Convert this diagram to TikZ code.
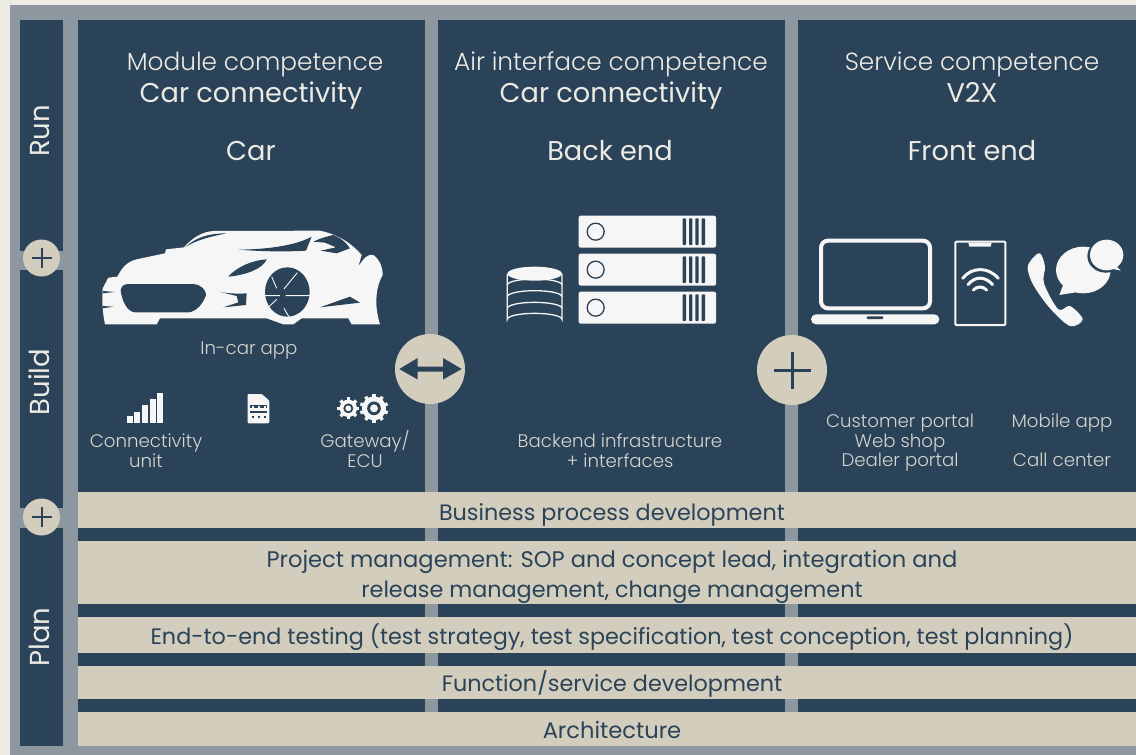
\documentclass[tikz,border=0pt]{standalone}
\usepackage{fontspec}
\setmainfont{Poppins}[UprightFont={* Light}]
\newfontfamily\regfont{Poppins}
\definecolor{navy}{HTML}{2A4358}
\definecolor{slate}{HTML}{8C979F}
\definecolor{paper}{HTML}{EEEBE4}
\definecolor{sand}{HTML}{D2CDBD}
\definecolor{snow}{HTML}{F6F6F6}
\definecolor{headtxt}{HTML}{ECEAE4}
\definecolor{smalltxt}{HTML}{D6D4CE}
\tikzset{
  head/.style={text=headtxt,font=\fontsize{24.8}{25}\selectfont,inner sep=0pt,anchor=base},
  headb/.style={text=headtxt,font=\regfont\fontsize{27.2}{27}\selectfont,inner sep=0pt,anchor=base},
  small/.style={text=smalltxt,font=\fontsize{18.2}{18}\selectfont,inner sep=0pt,anchor=base},
  band/.style={text=navy,font=\regfont\fontsize{22.3}{22}\selectfont,inner sep=0pt,anchor=base},
  bandwide/.style={text=navy,font=\regfont\fontsize{22.6}{22}\selectfont,inner sep=0pt,anchor=base},
  side/.style={text=headtxt,font=\regfont\fontsize{27.5}{28}\selectfont,inner sep=0pt,rotate=90,anchor=base},
  zoomA/.style={shift={(80,210)},x=0.33333pt,y=-0.33333pt},
  zoomB/.style={shift={(480,200)},x=0.33333pt,y=-0.33333pt},
  zoomC/.style={shift={(750,220)},x=0.33333pt,y=-0.33333pt},
}
\begin{document}
\begin{tikzpicture}[x=1pt,y=-1pt]
\useasboundingbox (0,0) rectangle (1136,755);
\fill[paper] (0,0) rectangle (1136,755);
\fill[slate] (10,5) rectangle (1136,755);
\fill[navy] (20,20) rectangle (63,251);
\fill[navy] (20,270) rectangle (63,508);
\fill[navy] (20,528) rectangle (63,746);
\fill[navy] (78,20) rectangle (425,712);
\fill[navy] (438,20) rectangle (785,712);
\fill[navy] (798,20) rectangle (1136,712);
% bands
\fill[sand] (78,492) rectangle (1136,528);
\fill[sand] (78,541) rectangle (1136,604);
\fill[sand] (78,617) rectangle (1136,653);
\fill[sand] (78,666) rectangle (1136,699);
\fill[sand] (78,712) rectangle (1136,746);
% side labels
\node[side] (run) at (49.5,131) {Run};
\node[side] (build) at (49.5,382) {Build};
\node[side] (plan) at (49.5,637) {Plan};
% small plus circles
\fill[sand] (41.5,258) circle (18.5pt);
\fill[sand] (41.5,517) circle (18.5pt);
\draw[navy,line width=2pt] (31.5,258) -- (51.5,258) (41.5,248) -- (41.5,268);
\draw[navy,line width=2pt] (31.5,517) -- (51.5,517) (41.5,507) -- (41.5,527);
% big circles
\fill[sand] (430,369) circle (35pt);
\fill[sand] (792,370) circle (35pt);
\fill[navy] (399.3,369) -- (417.7,358) -- (417.7,366.7) -- (443,366.7) -- (443,358) -- (461.7,369) -- (443,379.5) -- (443,371.5) -- (417.7,371.5) -- (417.7,379.5) -- cycle;
\draw[navy,line width=3pt] (774,370) -- (811,370) (792,352) -- (792,389);
% headings
\node[head] (h1a) at (255,70) {Module competence};
\node[headb] (h1b) at (251,102) {Car connectivity};
\node[headb] (h1c) at (251,160) {Car};
\node[head] (h2a) at (611,70) {Air interface competence};
\node[headb] (h2b) at (611,102) {Car connectivity};
\node[headb] (h2c) at (610,160) {Back end};
\node[head] (h3a) at (972,70) {Service competence};
\node[headb] (h3b) at (972,102) {V2X};
\node[headb] (h3c) at (972,160) {Front end};
% small labels
\node[small] (l1) at (249,354) {In-car app};
\node[small] (l2) at (146,447) {Connectivity};
\node[small] (l3) at (146,467) {unit};
\node[small] (l4) at (365,447) {Gateway/};
\node[small] (l5) at (365,467) {ECU};
\node[small] (l6) at (620,447) {Backend infrastructure};
\node[small] (l7) at (620,467) {+ interfaces};
\node[small] (l8) at (900,427) {Customer portal};
\node[small] (l9) at (900,447) {Web shop};
\node[small] (l10) at (900,466) {Dealer portal};
\node[small] (l11) at (1062,427) {Mobile app};
\node[small] (l12) at (1062,466) {Call center};
% band labels
\node[band] (b1) at (612,520) {Business process development};
\node[bandwide] (b2) at (612,567) {Project management: SOP and concept lead, integration and};
\node[band] (b3) at (612,597) {release management, change management};
\node[band] (b4) at (612,644) {End-to-end testing (test strategy, test specification, test conception, test planning)};
\node[band] (b5) at (612,691) {Function/service development};
\node[bandwide] (b6) at (612,738) {Architecture};
% car
\begin{scope}[zoomA]
\fill[snow] (75,343) .. controls (68,310) and (65,270) .. (68,235) -- (85,203) -- (112,200) .. controls (125,175) and (140,155) .. (170,148) -- (255,130) -- (258,118) -- (312,112) .. controls (340,80) and (370,65) .. (400,63) -- (720,62) .. controls (780,75) and (820,105) .. (845,135) -- (835,170) .. controls (850,145) and (865,130) .. (880,135) .. controls (900,150) and (908,170) .. (908,195) .. controls (890,225) and (880,280) .. (900,343) -- (815,343) -- (805,325) -- (665,325) -- (640,343) -- (610,343) -- (560,325) -- (240,325) -- (230,343) -- cycle;
\fill[navy] (122,240) .. controls (125,225) and (135,222) .. (150,222) -- (340,222) .. controls (365,225) and (378,240) .. (378,255) .. controls (370,280) and (350,305) .. (325,307) -- (165,307) .. controls (140,305) and (125,270) .. (122,240) -- cycle;
\fill[navy] (318,110) .. controls (345,85) and (380,70) .. (440,70) .. controls (390,80) and (350,90) .. (318,110) -- cycle;
\fill[navy] (475,119) .. controls (570,118) and (650,105) .. (695,80) -- (678,122) .. controls (610,126) and (540,124) .. (475,119) -- cycle;
\fill[navy] (700,95) .. controls (720,85) and (745,78) .. (760,75) .. controls (785,85) and (800,100) .. (810,115) -- (770,130) -- (722,122) -- (768,112) -- (735,98) -- cycle;
\fill[navy] (445,200) .. controls (470,170) and (520,150) .. (560,148) .. controls (550,175) and (500,195) .. (445,200) -- cycle;
\fill[navy] (418,245) .. controls (440,250) and (470,252) .. (500,250) -- (498,285) -- (430,292) -- (475,277) -- (470,258) -- cycle;
\fill[navy] (720,292) -- (810,260) -- (840,278) -- cycle;
\fill[navy] (68,243) -- (105,246) -- (68,250) -- cycle;
\fill[navy] (68,288) -- (100,290) -- (68,295) -- cycle;
\fill[navy] (622,246) ellipse [x radius=67,y radius=74];
\draw[snow,line width=0.9pt] (555,257) -- (600,257) (617,257) -- (688,257) (612,237) -- (652,188) (575,200) -- (590,235) (560,297) -- (590,268) (612,295) -- (638,340);
\foreach \x/\h in {140/618,163/605,187/585,210/566,232/550} \fill[snow] (\x,640) rectangle ++(18,\h-640);
\fill[snow,rounded corners=1pt] (503,552) -- (545,552) -- (568,572) -- (568,640) -- (503,640) -- cycle;
\fill[navy] (510,585) rectangle (561,610);
\fill[snow] (510,595) rectangle (561,603);
\foreach \x in {516,534,552} {\fill[snow] (\x,587) rectangle ++(6,6); \fill[navy] (\x,617) rectangle ++(6,6);}
\foreach \c/\r/\n in {805/26/8,882/36/10} {
  \foreach \a in {1,...,\n} \fill[snow,rotate around={360*\a/\n:(\c,595)}] (\c-5,595-\r-7) rectangle (\c+5,595);
  \fill[snow] (\c,595) circle (\r*0.3333pt);
  \fill[navy] (\c,595) circle (\r*0.19pt);
  \fill[snow] (\c,595) circle (\r*0.11pt);
}
\end{scope}
% servers and database
\begin{scope}[zoomB]
\foreach \y in {47,161,275} {
  \fill[snow,rounded corners=2pt] (296,\y) rectangle (708,\y+96);
  \draw[navy,line width=1.3pt] (347,\y+48) circle (8.5pt);
  \foreach \x in {608,627,646,665} \fill[navy,rounded corners=0.8pt] (\x,\y+8) rectangle ++(10,80);
}
\draw[snow,line width=1.3pt] (82,222) -- (82,358) arc[start angle=180,end angle=360,x radius=82,y radius=18] -- (246,222);
\foreach \y in {255,290,325} \draw[snow,line width=1.3pt] (82,\y) arc[start angle=180,end angle=360,x radius=82,y radius=18];
\fill[snow] (164,221) ellipse [x radius=82,y radius=21];
\end{scope}
% devices
\begin{scope}[zoomC]
\draw[snow,line width=4pt,rounded corners=7pt] (213,62) rectangle (540,265);
\fill[snow,rounded corners=5pt] (183,283) rectangle (568,313);
\fill[navy,rounded corners=1pt] (350,289) rectangle (400,297);
\draw[snow,line width=2pt,rounded corners=1pt] (616,65) rectangle (766,315);
\fill[snow] (655,68) -- (725,68) -- (722,80) -- (658,80) -- cycle;
\draw[snow,line width=3pt,line cap=round] (638,175) .. controls (665,140) and (715,140) .. (745,175);
\draw[snow,line width=3pt,line cap=round] (654,194) .. controls (675,168) and (705,168) .. (728,194);
\draw[snow,line width=3pt,line cap=round] (670,210) .. controls (682,198) and (698,198) .. (710,210);
\fill[snow] plot[smooth cycle,tension=0.55] coordinates {(870,100) (845,118) (833,145) (850,195) (900,265) (960,318) (998,298) (960,258) (925,268) (882,190) (885,140)};
\fill[snow] (1000,150) ellipse [x radius=82,y radius=70];
\fill[snow] (945,180) -- (928,225) -- (990,215) -- cycle;
\fill[navy] (1068,108) ellipse [x radius=56,y radius=50];
\fill[snow] (1070,105) ellipse [x radius=50,y radius=46];
\fill[snow] (1090,130) -- (1112,152) -- (1085,146) -- cycle;
\end{scope}
\end{tikzpicture}
\end{document}
